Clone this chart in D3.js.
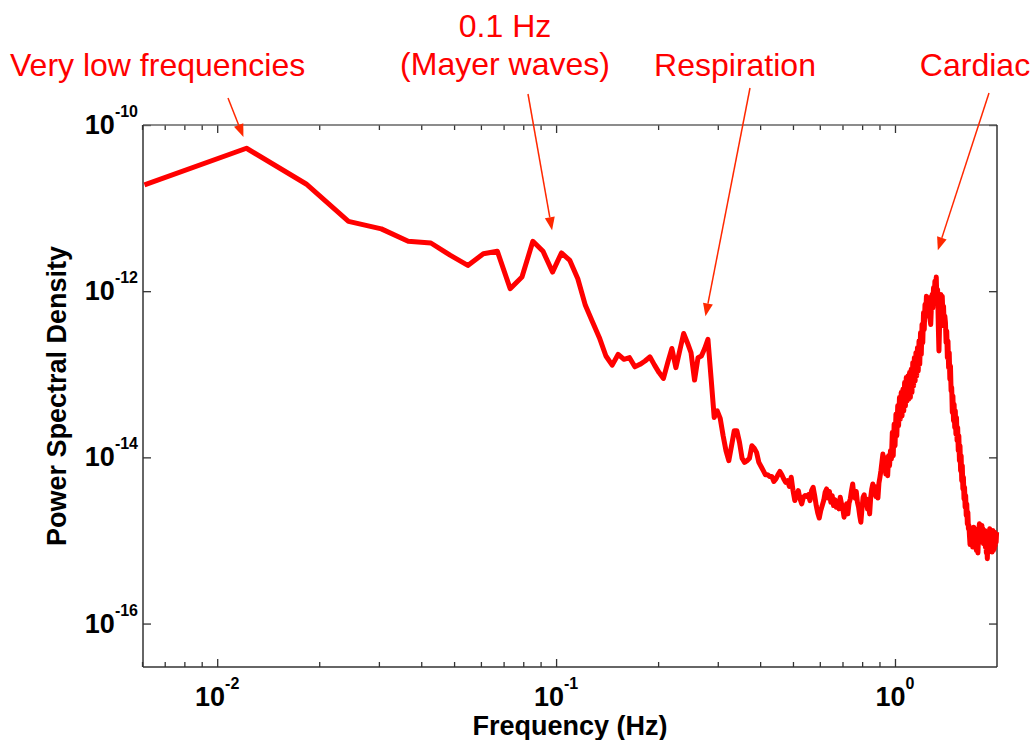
<!DOCTYPE html>
<html>
<head>
<meta charset="utf-8">
<script src="https://cdn.jsdelivr.net/npm/d3@7"></script>
<style>
  html, body { margin: 0; padding: 0; background: #fff; }
  svg { display: block; }
</style>
</head>
<body>
<svg id="chart" width="1036" height="740"></svg>
<script>
// Spacing of the spectral estimate's frequency bins (Hz); bin k sits at k * binWidthHz
const binWidthHz = 0.0061;

// log10 of the power spectral density for bins 1..327
const log10Psd = [
  -10.72, -10.28, -10.71, -11.16, -11.25, -11.40, -11.42, -11.57, -11.69, -11.55,
  -11.52, -11.97, -11.83, -11.40, -11.52, -11.77, -11.54, -11.63, -11.85, -12.17,
  -12.37, -12.56, -12.78, -12.89, -12.76, -12.82, -12.80, -12.91, -12.88, -12.84,
  -12.79, -12.89, -12.98, -13.05, -12.86, -12.69, -12.92, -12.71, -12.51, -12.62,
  -12.74, -13.07, -12.80, -12.78, -12.69, -12.58, -13.05, -13.52, -13.44, -13.53,
  -13.74, -13.92, -14.04, -13.86, -13.68, -13.68, -13.82, -14.01, -14.06, -14.04,
  -14.01, -13.86, -13.89, -13.94, -14.06, -14.11, -14.16, -14.21, -14.21, -14.23,
  -14.23, -14.29, -14.26, -14.21, -14.17, -14.21, -14.26, -14.30, -14.28, -14.35,
  -14.24, -14.40, -14.52, -14.44, -14.40, -14.50, -14.56, -14.48, -14.46, -14.47,
  -14.45, -14.52, -14.40, -14.36, -14.46, -14.58, -14.67, -14.73, -14.64, -14.58,
  -14.52, -14.42, -14.38, -14.49, -14.41, -14.54, -14.46, -14.58, -14.51, -14.60,
  -14.53, -14.62, -14.48, -14.56, -14.62, -14.72, -14.62, -14.56, -14.68, -14.55,
  -14.50, -14.40, -14.32, -14.47, -14.49, -14.41, -14.54, -14.60, -14.70, -14.78,
  -14.62, -14.48, -14.45, -14.57, -14.50, -14.62, -14.53, -14.68, -14.48, -14.38,
  -14.32, -14.44, -14.35, -14.47, -14.38, -14.49, -14.31, -14.24, -14.16, -14.06,
  -13.96, -14.14, -14.00, -14.20, -14.04, -14.22, -13.98, -14.10, -13.92, -14.02,
  -13.70, -13.98, -13.60, -13.86, -13.48, -13.74, -13.38, -13.62, -13.28, -13.54,
  -13.22, -13.50, -13.18, -13.44, -13.10, -13.38, -13.04, -13.32, -13.02, -13.30,
  -12.98, -13.28, -12.94, -13.22, -12.86, -13.14, -12.80, -13.08, -12.74, -13.02,
  -12.68, -12.96, -12.60, -12.88, -12.50, -12.76, -12.40, -12.62, -12.26, -12.46,
  -12.16, -12.30, -12.06, -12.22, -12.10, -12.28, -12.08, -12.34, -12.40, -12.18,
  -12.04, -12.20, -11.96, -12.10, -11.88, -12.02, -11.83, -12.14, -11.98, -12.40,
  -12.72, -12.40, -12.16, -12.04, -12.20, -12.06, -12.28, -12.18, -12.42, -12.30,
  -12.38, -12.62, -12.48, -12.80, -12.60, -12.92, -12.74, -13.06, -12.90, -13.20,
  -13.16, -13.46, -13.26, -13.56, -13.36, -13.64, -13.44, -13.72, -13.52, -13.80,
  -13.64, -13.92, -13.74, -14.04, -13.86, -14.16, -13.98, -14.28, -14.10, -14.38,
  -14.24, -14.50, -14.36, -14.60, -14.46, -14.70, -14.56, -14.80, -14.66, -14.86,
  -14.82, -14.95, -15.05, -14.90, -14.85, -15.00, -14.88, -15.08, -14.92, -14.84,
  -14.98, -14.86, -15.05, -14.92, -15.12, -15.00, -14.90, -15.15, -14.98, -14.85,
  -14.80, -14.95, -14.85, -15.02, -14.90, -14.82, -14.98, -14.86, -15.04, -14.92,
  -15.00, -14.88, -15.08, -14.95, -15.15, -15.02, -15.22, -15.05, -14.92, -15.10,
  -14.90, -14.86, -15.02, -14.92, -15.08, -14.95, -15.14, -15.00, -14.88, -15.12,
  -14.96, -15.10, -14.90, -15.06, -14.92, -15.02, -14.90
];

// Axis extents
const freqDomain = [0.00604, 2];
const psdDomain = [3e-17, 1e-10];

// Decade ticks and their exponent labels
const xMajorTicks = [0.01, 0.1, 1];
const xTickExponents = ["-2", "-1", "0"];
const xMinorTicks = [0.006, 0.007, 0.008, 0.009,
                     0.02, 0.03, 0.04, 0.05, 0.06, 0.07, 0.08, 0.09,
                     0.2, 0.3, 0.4, 0.5, 0.6, 0.7, 0.8, 0.9];
const yMajorTicks = [1e-10, 1e-12, 1e-14, 1e-16];
const yTickExponents = ["-10", "-12", "-14", "-16"];

// Physiological bands called out above the plot: label lines, arrow tail (px), arrow tip (Hz, PSD)
const annotations = [
  { lines: ["Very low frequencies"], anchor: "start", x: 10, baselines: [76],
    tail: [228, 98], tip: [0.01195, 7.16e-11] },
  { lines: ["0.1 Hz", "(Mayer waves)"], anchor: "middle", x: 505, baselines: [37, 75],
    tail: [528, 94], tip: [0.0973, 5.42e-12] },
  { lines: ["Respiration"], anchor: "middle", x: 735, baselines: [76],
    tail: [750, 88], tip: [0.2759, 4.98e-13] },
  { lines: ["Cardiac"], anchor: "middle", x: 975, baselines: [76],
    tail: [989, 93], tip: [1.338, 3.11e-12] }
];

const FONT = "'Liberation Sans', Arial, Helvetica, sans-serif";
const plot = { left: 143, right: 997, top: 125, bottom: 667 };

const svg = d3.select("#chart");

const x = d3.scaleLog().domain(freqDomain).range([plot.left, plot.right]);
const y = d3.scaleLog().domain(psdDomain).range([plot.bottom, plot.top]);

// Inward-pointing tick marks on all four sides
function styleTicks(g) {
  g.select(".domain").remove();
  g.selectAll(".tick line").attr("stroke", "#333").attr("stroke-width", 1.3);
  g.selectAll(".tick text").remove();
}
const axisSpecs = [
  { gen: d3.axisBottom, scale: x, pos: `translate(0,${plot.bottom})` },
  { gen: d3.axisTop, scale: x, pos: `translate(0,${plot.top})` }
];
axisSpecs.forEach(s => {
  svg.append("g").attr("transform", s.pos)
    .call(s.gen(s.scale).tickValues(xMajorTicks).tickSize(-8).tickSizeOuter(0).tickFormat(""))
    .call(styleTicks);
  svg.append("g").attr("transform", s.pos)
    .call(s.gen(s.scale).tickValues(xMinorTicks).tickSize(-5).tickSizeOuter(0).tickFormat(""))
    .call(styleTicks);
});
svg.append("g").attr("transform", `translate(${plot.left},0)`)
  .call(d3.axisLeft(y).tickValues(yMajorTicks).tickSize(-8).tickSizeOuter(0).tickFormat(""))
  .call(styleTicks);
svg.append("g").attr("transform", `translate(${plot.right},0)`)
  .call(d3.axisRight(y).tickValues(yMajorTicks).tickSize(-8).tickSizeOuter(0).tickFormat(""))
  .call(styleTicks);

// Plot frame
const frame = svg.append("g").attr("stroke-width", 1.5).attr("fill", "none");
frame.append("line").attr("x1", plot.left).attr("x2", plot.right).attr("y1", plot.top).attr("y2", plot.top).attr("stroke", "#666");
frame.append("line").attr("x1", plot.right).attr("x2", plot.right).attr("y1", plot.top).attr("y2", plot.bottom).attr("stroke", "#333");
frame.append("line").attr("x1", plot.left).attr("x2", plot.right).attr("y1", plot.bottom).attr("y2", plot.bottom).attr("stroke", "#333");
frame.append("line").attr("x1", plot.left).attr("x2", plot.left).attr("y1", plot.top).attr("y2", plot.bottom).attr("stroke", "#333");

// Power-of-ten tick labels
function powerLabel(sel, exponent) {
  sel.append("tspan").text("10");
  sel.append("tspan").attr("dy", -17).attr("font-size", 16).text(exponent);
}
xMajorTicks.forEach((v, i) => {
  svg.append("text")
    .attr("x", x(v)).attr("y", plot.bottom + 39)
    .attr("text-anchor", "middle")
    .attr("font-family", FONT).attr("font-weight", "bold").attr("font-size", 27)
    .call(powerLabel, xTickExponents[i]);
});
yMajorTicks.forEach((v, i) => {
  svg.append("text")
    .attr("x", plot.left - 5).attr("y", y(v) + 9)
    .attr("text-anchor", "end")
    .attr("font-family", FONT).attr("font-weight", "bold").attr("font-size", 27)
    .call(powerLabel, yTickExponents[i]);
});

// Axis titles
svg.append("text")
  .attr("x", (plot.left + plot.right) / 2).attr("y", 735)
  .attr("text-anchor", "middle")
  .attr("font-family", FONT).attr("font-weight", "bold").attr("font-size", 27)
  .text("Frequency (Hz)");
svg.append("text")
  .attr("transform", `translate(66,${(plot.top + plot.bottom) / 2}) rotate(-90)`)
  .attr("text-anchor", "middle")
  .attr("font-family", FONT).attr("font-weight", "bold").attr("font-size", 27)
  .text("Power Spectral Density");

// Spectrum
const spectrum = log10Psd.map((v, i) => ({ f: (i + 1) * binWidthHz, p: Math.pow(10, v) }));
svg.append("path")
  .datum(spectrum)
  .attr("fill", "none")
  .attr("stroke", "#ff0000")
  .attr("stroke-width", 5)
  .attr("stroke-linejoin", "round")
  .attr("d", d3.line().x(d => x(d.f)).y(d => y(d.p)));

// Band annotations with arrows
const ARROW = "#ff2800";
annotations.forEach(a => {
  const t = svg.append("text")
    .attr("text-anchor", a.anchor)
    .attr("font-family", FONT).attr("font-size", 32)
    .attr("fill", "#ff0000");
  a.lines.forEach((line, i) => {
    t.append("tspan").attr("x", a.x).attr("y", a.baselines[i]).text(line);
  });

  const tx = x(a.tip[0]), ty = y(a.tip[1]);
  const [sx, sy] = a.tail;
  const len = Math.hypot(tx - sx, ty - sy);
  const ux = (tx - sx) / len, uy = (ty - sy) / len;
  const headLen = 13, headHalf = 5;
  const bx = tx - ux * headLen, by = ty - uy * headLen;
  svg.append("line")
    .attr("x1", sx).attr("y1", sy).attr("x2", bx).attr("y2", by)
    .attr("stroke", ARROW).attr("stroke-width", 1.5);
  svg.append("path")
    .attr("d", `M${tx},${ty}L${bx - uy * headHalf},${by + ux * headHalf}L${bx + uy * headHalf},${by - ux * headHalf}Z`)
    .attr("fill", ARROW);
});
</script>
</body>
</html>
